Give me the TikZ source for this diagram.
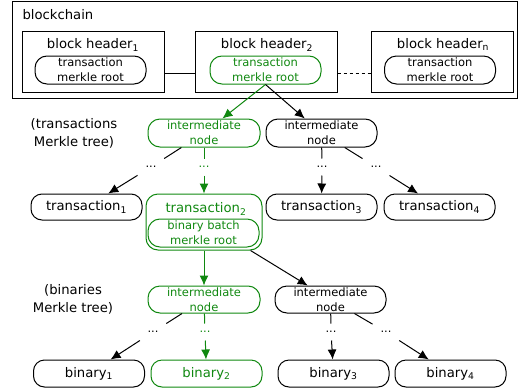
\documentclass[tikz,border=0pt]{standalone}
\usepackage{fontspec}
\setmainfont{DejaVu Sans}
\usetikzlibrary{arrows,arrows.meta,shapes}
\definecolor{merklegreen}{RGB}{16,136,16}

\begin{document}
\begin{tikzpicture}[x=1pt,y=-1pt,line width=1pt]
                    \tikzstyle{every node}+=[inner sep=0pt]
                    \tikzstyle{bigtext}=[font=\fontsize{13.2}{18}\selectfont]
                    \tikzstyle{smalltext}=[font=\fontsize{11.5}{15}\selectfont]
                    \tikzstyle{hdrbox}=[draw,rectangle,minimum width=142pt,minimum height=61pt]
                    \tikzstyle{rbox}=[draw,rounded corners=12pt,minimum width=111pt,minimum height=28pt,align=center,smalltext]
                    \tikzstyle{leaf}=[draw,rounded corners=11pt,minimum width=111pt,minimum height=27pt,bigtext]
                    \tikzstyle{gap}=[smalltext,minimum width=26pt,minimum height=16pt]
                    \tikzstyle{hop}=[-{Latex[length=10pt,width=9pt]}]
                    \tikzstyle{onpath}=[color=merklegreen]
                    \useasboundingbox (0,0) rectangle (524,391);
                    % blockchain
                    \node [draw,minimum width=505.5pt,minimum height=96.5pt] (chain) at (264.75,49.75) {};
                    \node [bigtext,anchor=west] (chaint) at (22,15) {blockchain};
                    \node [hdrbox] (hdr1) at (93,61.5) {};
                    \node [bigtext,anchor=base] (hdr1t) at (93,48.5) {block header\textsubscript{1}};
                    \node [rbox] (root1) at (90.5,70) {transaction\\merkle root};
                    \node [hdrbox] (hdr2) at (266,61.5) {};
                    \node [bigtext,anchor=base] (hdr2t) at (267,48.5) {block header\textsubscript{2}};
                    \node [rbox,onpath] (root2) at (265.5,70) {transaction\\merkle root};
                    \node [hdrbox] (hdrn) at (442,61.5) {};
                    \node [bigtext,anchor=base] (hdrnt) at (443,48.5) {block header\textsubscript{n}};
                    \node [rbox] (rootn) at (440,70) {transaction\\merkle root};
                    \draw ([yshift=-11.5pt]hdr1.east) -- ([yshift=-11.5pt]hdr2.west);
                    \draw [dashed] ([yshift=-11.5pt]hdr2.east) -- ([yshift=-11.5pt]hdrn.west);
                    % transactions tree
                    \node [bigtext,align=center] (txlabel) at (74,133) {(transactions\\Merkle tree)};
                    \node [rbox,onpath,minimum width=112pt] (int1) at (204,133) {intermediate\\node};
                    \node [rbox,minimum width=111pt] (int2) at (321.5,133) {intermediate\\node};
                    \node [gap] (d1) at (151,167) {...};
                    \node [gap,onpath] (d2) at (204,167) {...};
                    \node [gap] (d3) at (322,167) {...};
                    \node [gap] (d4) at (376,167) {...};
                    \node [leaf,minimum height=26pt] (tx1) at (86.5,207) {transaction\textsubscript{1}};
                    \node [draw,onpath,rounded corners=12pt,minimum width=116pt,minimum height=56pt] (tx2) at (204,222) {};
                    \node [bigtext,onpath,anchor=base] (tx2t) at (206,212.5) {transaction\textsubscript{2}};
                    \node [rbox,onpath] (batch) at (203.5,233) {binary batch\\merkle root};
                    \node [leaf,minimum height=26pt] (tx3) at (321.5,207) {transaction\textsubscript{3}};
                    \node [leaf,minimum height=26pt] (tx4) at (439.5,207) {transaction\textsubscript{4}};
                    \draw [onpath,hop] (root2.south) -- (int1);
                    \draw [hop] (root2.south) -- (int2);
                    \draw (int1) -- (d1);
                    \draw [hop] (d1) -- (tx1);
                    \draw [onpath] (int1) -- (d2);
                    \draw [onpath,hop] (d2) -- (tx2);
                    \draw (int2) -- (d3);
                    \draw [hop] (d3) -- (tx3);
                    \draw (int2) -- (d4);
                    \draw [hop] (d4) -- (tx4);
                    % binaries tree
                    \node [bigtext,align=center] (binlabel) at (73,299) {(binaries\\Merkle tree)};
                    \node [rbox,onpath,minimum width=112pt,minimum height=27pt] (bint1) at (204,299.5) {intermediate\\node};
                    \node [rbox,minimum width=111pt,minimum height=27pt] (bint2) at (330.5,299.5) {intermediate\\node};
                    \node [gap] (bd1) at (153,332) {...};
                    \node [gap,onpath] (bd2) at (205,332) {...};
                    \node [gap] (bd3) at (331,332) {...};
                    \node [gap] (bd4) at (386,332) {...};
                    \node [leaf] (bin1) at (89,373.5) {binary\textsubscript{1}};
                    \node [leaf,onpath] (bin2) at (206.5,373.5) {binary\textsubscript{2}};
                    \node [leaf] (bin3) at (333.5,373.5) {binary\textsubscript{3}};
                    \node [leaf] (bin4) at (450.5,373.5) {binary\textsubscript{4}};
                    \draw [onpath,hop] (tx2) -- (bint1);
                    \draw [hop] (tx2) -- (bint2);
                    \draw (bint1) -- (bd1);
                    \draw [hop] (bd1) -- (bin1);
                    \draw [onpath] (bint1) -- (bd2);
                    \draw [onpath,hop] (bd2) -- (bin2);
                    \draw (bint2) -- (bd3);
                    \draw [hop] (bd3) -- (bin3);
                    \draw (bint2) -- (bd4);
                    \draw [hop] (bd4) -- (bin4);
                \end{tikzpicture}
\end{document}
